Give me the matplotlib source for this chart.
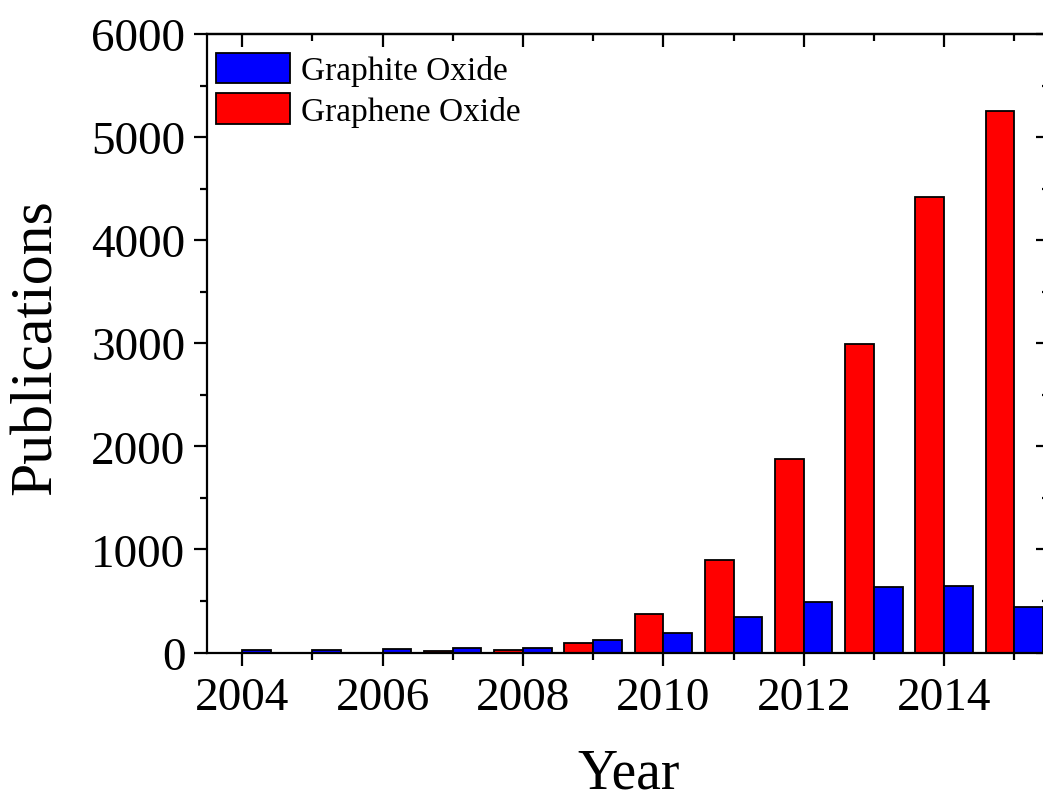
import matplotlib.pyplot as plt
import numpy as np
from matplotlib.ticker import MultipleLocator

plt.rcParams['font.family'] = ['Liberation Serif', 'DejaVu Serif']

years = np.array([2004, 2005, 2006, 2007, 2008, 2009, 2010, 2011, 2012, 2013, 2014, 2015])
graphite_oxide = np.array([20, 20, 32, 39, 45, 120, 194, 346, 493, 631, 646, 445])
graphene_oxide = np.array([0, 0, 0, 13, 26, 93, 378, 899, 1880, 2989, 4423, 5255])

fig = plt.figure(figsize=(10.43, 8.03), dpi=100)
ax = fig.add_axes([207/1043, 1-653.5/803, 842.4/1043, 618.5/803])

w = 0.41
ax.bar(years, graphene_oxide, width=-w, align='edge', color='red',
       edgecolor='black', linewidth=1.3, label='Graphene Oxide')
ax.bar(years, graphite_oxide, width=w, align='edge', color='blue',
       edgecolor='black', linewidth=1.3, label='Graphite Oxide')

ax.set_xlim(2003.5, 2015.5)
ax.set_ylim(0, 6000)
ax.xaxis.set_major_locator(MultipleLocator(2))
ax.xaxis.set_minor_locator(MultipleLocator(1))
ax.yaxis.set_major_locator(MultipleLocator(1000))
ax.yaxis.set_minor_locator(MultipleLocator(500))
ax.tick_params(which='major', direction='out', length=9.5, width=1.6, labelsize=34, pad=8)
ax.tick_params(which='minor', direction='out', length=5, width=1.6)
ax.tick_params(axis='y', pad=6)
for s in ax.spines.values():
    s.set_linewidth(1.6)

# top / right ticks point inward
top = ax.secondary_xaxis('top')
top.xaxis.set_major_locator(MultipleLocator(2))
top.xaxis.set_minor_locator(MultipleLocator(1))
top.tick_params(which='major', direction='in', length=9.5, width=1.6, labeltop=False)
top.tick_params(which='minor', direction='in', length=5, width=1.6)
top.spines['top'].set_linewidth(1.6)
right = ax.secondary_yaxis('right')
right.yaxis.set_major_locator(MultipleLocator(1000))
right.yaxis.set_minor_locator(MultipleLocator(500))
right.tick_params(which='major', direction='in', length=9.5, width=1.6, labelright=False)
right.tick_params(which='minor', direction='in', length=5, width=1.6)

ax.set_xlabel('Year', fontsize=40)
ax.xaxis.set_label_coords(0.5, -0.153)
ax.set_ylabel('Publications', fontsize=43)
ax.yaxis.set_label_coords(-0.17, 0.495)

h, l = ax.get_legend_handles_labels()
ax.legend(h[::-1], l[::-1], loc='upper left', bbox_to_anchor=(0.0105, 0.97),
          frameon=False, fontsize=24, handlelength=2.22, handleheight=1.05,
          handletextpad=0.33, labelspacing=0.2, borderpad=0, borderaxespad=0)

fig.savefig('out.png', dpi=100)
